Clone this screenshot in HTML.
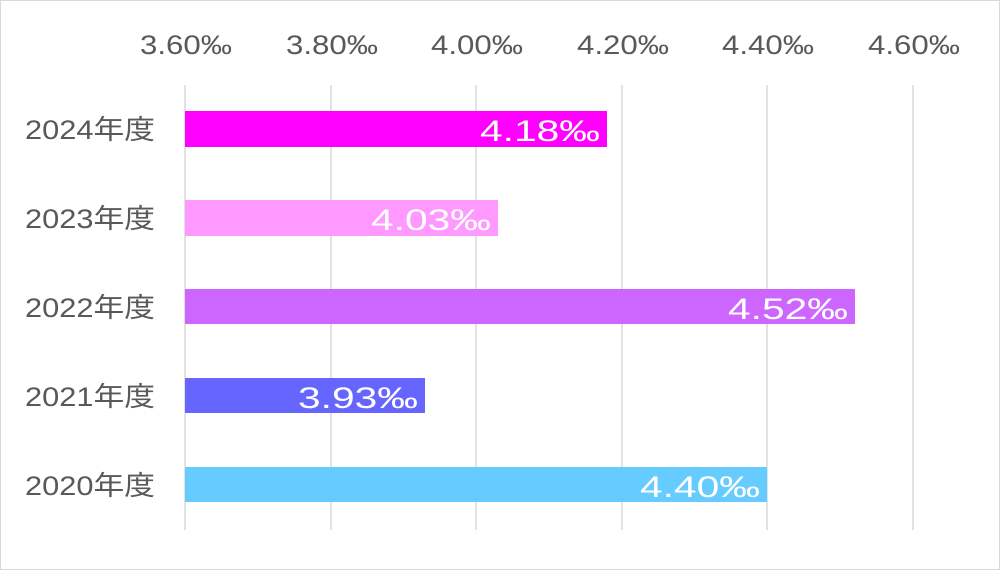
<!DOCTYPE html>
<html><head><meta charset="utf-8"><style>
body{margin:0;background:#fff;}
svg{display:block;}
text{font-family:"Liberation Sans","Noto Sans CJK JP",sans-serif;}
</style></head><body>
<svg width="1000" height="570" viewBox="0 0 1000 570">
<rect x="0.5" y="0.5" width="999" height="569" fill="#fff" stroke="#d9d9d9"/>
<g stroke="#d9d9d9" stroke-width="1.5">
<line x1="185" y1="85" x2="185" y2="530"/>
<line x1="331" y1="85" x2="331" y2="530"/>
<line x1="476" y1="85" x2="476" y2="530"/>
<line x1="622" y1="85" x2="622" y2="530"/>
<line x1="767" y1="85" x2="767" y2="530"/>
<line x1="913" y1="85" x2="913" y2="530"/>
</g>
<g fill="#595959" font-size="27">
<text x="140" y="54" textLength="92" lengthAdjust="spacingAndGlyphs">3.60‰</text>
<text x="286" y="54" textLength="92" lengthAdjust="spacingAndGlyphs">3.80‰</text>
<text x="431" y="54" textLength="92" lengthAdjust="spacingAndGlyphs">4.00‰</text>
<text x="577" y="54" textLength="92" lengthAdjust="spacingAndGlyphs">4.20‰</text>
<text x="722" y="54" textLength="92" lengthAdjust="spacingAndGlyphs">4.40‰</text>
<text x="868" y="54" textLength="92" lengthAdjust="spacingAndGlyphs">4.60‰</text>
</g>
<g fill="#595959" font-size="27">
<text x="25" y="139" textLength="130" lengthAdjust="spacingAndGlyphs">2024年度</text>
<text x="25" y="228" textLength="130" lengthAdjust="spacingAndGlyphs">2023年度</text>
<text x="25" y="317" textLength="130" lengthAdjust="spacingAndGlyphs">2022年度</text>
<text x="25" y="406" textLength="130" lengthAdjust="spacingAndGlyphs">2021年度</text>
<text x="25" y="495" textLength="130" lengthAdjust="spacingAndGlyphs">2020年度</text>
</g>
<rect x="185" y="111" width="422" height="36" fill="#FF00FF"/>
<rect x="185" y="200" width="313" height="36" fill="#FF99FF"/>
<rect x="185" y="289" width="670" height="35" fill="#CC66FF"/>
<rect x="185" y="378" width="240" height="35" fill="#6666FF"/>
<rect x="185" y="467" width="582" height="35" fill="#66CCFF"/>
<g fill="#fff" font-size="30">
<text x="480" y="141" textLength="120" lengthAdjust="spacingAndGlyphs">4.18‰</text>
<text x="371" y="230" textLength="120" lengthAdjust="spacingAndGlyphs">4.03‰</text>
<text x="728" y="319" textLength="120" lengthAdjust="spacingAndGlyphs">4.52‰</text>
<text x="298" y="408" textLength="120" lengthAdjust="spacingAndGlyphs">3.93‰</text>
<text x="640" y="497" textLength="120" lengthAdjust="spacingAndGlyphs">4.40‰</text>
</g>
</svg>
</body></html>
